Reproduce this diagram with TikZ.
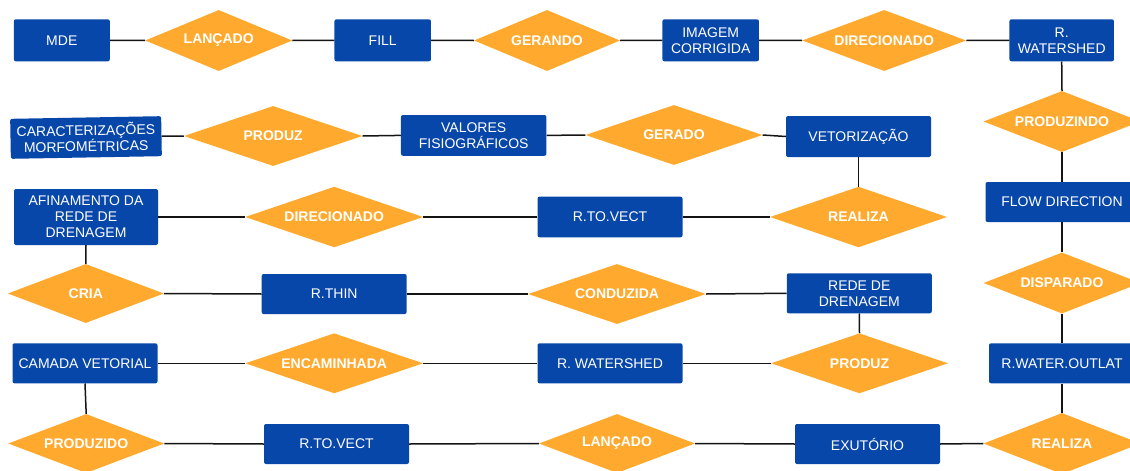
\documentclass[tikz,border=0pt]{standalone}
\usepackage{fontspec}
\setmainfont{Liberation Sans}
\usetikzlibrary{shapes.geometric}
\definecolor{boxblue}{RGB}{8,71,170}
\definecolor{relorange}{RGB}{255,170,46}
\tikzset{
  ent/.style={rectangle, rounded corners=2pt, fill=boxblue, text=white,
    font=\fontsize{14}{16}\selectfont, align=center, inner sep=0pt,
    minimum width=145pt, minimum height=40pt},
  rel/.style={diamond, fill=relorange, text=white,
    font=\bfseries\fontsize{14}{16}\selectfont, inner sep=0pt, aspect=2.7,
    minimum width=178pt, minimum height=60pt},
  link/.style={line width=1.5pt, draw=black!92}
}
\begin{document}
\begin{tikzpicture}[x=1pt,y=-1pt]
\useasboundingbox (0,0) rectangle (1130,471);
\fill[white] (0,0) rectangle (1130,471);
\clip (0,0) rectangle (1130,471);
% Row 1
\node[ent, minimum width=96pt, minimum height=42pt] (mde) at (61.8,40.3) {MDE};
\node[rel, minimum width=147pt, minimum height=61pt] (lanA) at (218.7,40.5) {LANÇADO};
\node[ent, minimum width=96.5pt, minimum height=42pt] (fill) at (382.7,40.3) {FILL};
\node[rel, minimum width=146pt, minimum height=61pt] (gerando) at (547,40.5) {GERANDO};
\node[ent, minimum width=96.5pt, minimum height=42pt] (imgc) at (710.7,40.3) {IMAGEM\\CORRIGIDA};
\node[rel, minimum width=164pt, minimum height=61pt] (direA) at (884.2,40.5) {DIRECIONADO};
\node[ent, minimum width=104.5pt, minimum height=42pt] (rws1) at (1061.7,40.3) {R.\\WATERSHED};
% Right column
\node[rel, minimum width=157pt, minimum height=61pt] (prodzndo) at (1062,121.5) {PRODUZINDO};
\node[ent, minimum width=153pt] (flowdir) at (1062,202) {FLOW DIRECTION};
\node[rel, minimum width=157pt, minimum height=61pt] (disp) at (1062,283) {DISPARADO};
\node[ent, minimum width=146pt] (rwo) at (1062,363.3) {R.WATER.OUTLAT};
\node[rel, minimum width=157pt, minimum height=61pt] (realB) at (1062,443.5) {REALIZA};
% Row 6
\node[ent] (exut) at (867.5,444) {EXUTÓRIO};
\node[rel, minimum width=156pt, minimum height=59pt] (lanB) at (617,443.5) {LANÇADO};
\node[ent] (rtv2) at (336.5,444) {R.TO.VECT};
\node[rel, minimum width=156pt, minimum height=59pt] (prodzdo) at (86.2,443.5) {PRODUZIDO};
% Row 5
\node[ent] (camada) at (85,363.3) {CAMADA VETORIAL};
\node[rel] (encam) at (334.2,363.3) {ENCAMINHADA};
\node[ent] (rws2) at (610,363.3) {R. WATERSHED};
\node[rel, minimum width=177pt] (prodB) at (859.5,363.3) {PRODUZ};
% Row 4
\node[ent] (rede) at (859.3,293.3) {REDE DE\\DRENAGEM};
\node[rel] (conduz) at (617,294) {CONDUZIDA};
\node[ent] (rthin) at (334.2,294) {R.THIN};
\node[rel, minimum width=156pt, minimum height=59pt] (cria) at (85.8,293.5) {CRIA};
% Row 3
\node[ent, minimum width=144pt, minimum height=56pt] (afin) at (86,217) {AFINAMENTO DA\\REDE DE\\DRENAGEM};
\node[rel, minimum height=60.6pt] (direB) at (334.2,217) {DIRECIONADO};
\node[ent, minimum height=40.6pt] (rtv1) at (610,217) {R.TO.VECT};
\node[rel, minimum width=177pt, minimum height=60.6pt] (realA) at (858.5,217) {REALIZA};
% Row 2
\node[ent, minimum height=41pt] (vetor) at (858.5,136.5) {VETORIZAÇÃO};
\node[rel, minimum width=177pt] (gerado) at (674,135) {GERADO};
\node[ent, minimum width=145.5pt, minimum height=40.7pt] (valores) at (473.7,135.4) {VALORES\\FISIOGRÁFICOS};
\node[rel, minimum width=178.5pt] (prodA) at (273.2,136) {PRODUZ};
\node[ent, minimum width=151pt, rotate=1] (caract) at (86,137.5) {CARACTERIZAÇÕES\\MORFOMÉTRICAS};
% Connectors
\draw[link] (mde.east) -- (lanA.west);
\draw[link] (lanA.east) -- (fill.west);
\draw[link] (fill.east) -- (gerando.west);
\draw[link] (gerando.east) -- (imgc.west);
\draw[link] (imgc.east) -- (direA.west);
\draw[link] (direA.east) -- (rws1.west);
\draw[link] (rws1.south) -- (prodzndo.north);
\draw[link] (prodzndo.south) -- (flowdir.north);
\draw[link] (flowdir.south) -- (disp.north);
\draw[link] (disp.south) -- (rwo.north);
\draw[link] (rwo.south) -- (realB.north);
\draw[link] (realB.west) -- (exut.east);
\draw[link] (exut.west) -- (lanB.east);
\draw[link] (lanB.west) -- (rtv2.east);
\draw[link] (rtv2.west) -- (prodzdo.east);
\draw[link] (prodzdo.north) -- (camada.south);
\draw[link] (camada.east) -- (encam.west);
\draw[link] (encam.east) -- (rws2.west);
\draw[link] (rws2.east) -- (prodB.west);
\draw[link] (prodB.north) -- (rede.south);
\draw[link] (rede.west) -- (conduz.east);
\draw[link] (conduz.west) -- (rthin.east);
\draw[link] (rthin.west) -- (cria.east);
\draw[link] (cria.north) -- (afin.south);
\draw[link] (afin.east) -- (direB.west);
\draw[link] (direB.east) -- (rtv1.west);
\draw[link] (rtv1.east) -- (realA.west);
\draw[link] (realA.north) -- (vetor.south);
\draw[link] (vetor.west) -- (gerado.east);
\draw[link] (gerado.west) -- (valores.east);
\draw[link] (valores.west) -- (prodA.east);
\draw[link] (prodA.west) -- (caract.east);
\end{tikzpicture}
\end{document}
